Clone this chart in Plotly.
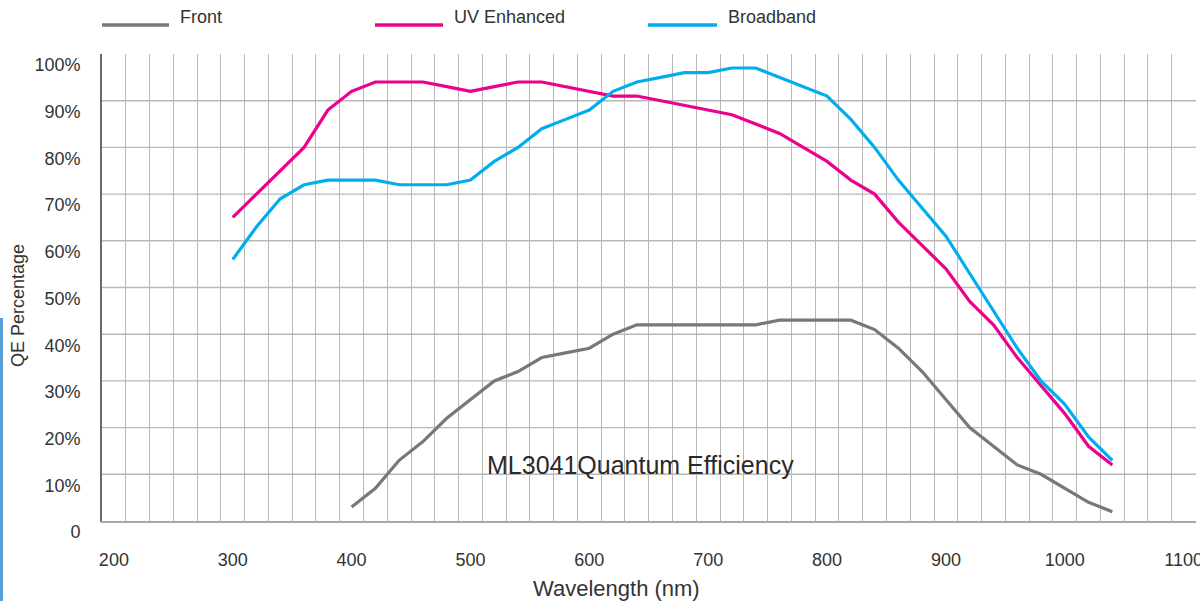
import plotly.graph_objects as go

# Wavelength samples (nm) and quantum efficiency (%) for each sensor variant
wavelength_uv_bb = [300, 320, 340, 360, 380, 400, 420, 440, 460, 480, 500, 520, 540, 560,
                    580, 600, 620, 640, 660, 680, 700, 720, 740, 760, 780, 800, 820, 840,
                    860, 880, 900, 920, 940, 960, 980, 1000, 1020, 1040]
qe_uv_enhanced = [65, 70, 75, 80, 88, 92, 94, 94, 94, 93, 92, 93, 94, 94,
                  93, 92, 91, 91, 90, 89, 88, 87, 85, 83, 80, 77, 73, 70,
                  64, 59, 54, 47, 42, 35, 29, 23, 16, 12]
qe_broadband = [56, 63, 69, 72, 73, 73, 73, 72, 72, 72, 73, 77, 80, 84,
                86, 88, 92, 94, 95, 96, 96, 97, 97, 95, 93, 91, 86, 80,
                73, 67, 61, 53, 45, 37, 30, 25, 18, 13]

wavelength_front = [400, 420, 440, 460, 480, 500, 520, 540, 560, 580, 600, 620, 640, 660,
                    680, 700, 720, 740, 760, 780, 800, 820, 840, 860, 880, 900, 920, 940,
                    960, 980, 1000, 1020, 1040]
qe_front = [3, 7, 13, 17, 22, 26, 30, 32, 35, 36, 37, 40, 42, 42,
            42, 42, 42, 42, 43, 43, 43, 43, 41, 37, 32, 26, 20, 16,
            12, 10, 7, 4, 2]

series_names = ["Front", "UV Enhanced", "Broadband"]
series_colors = ["#787878", "#EC008C", "#00AEEF"]

x_tick_values = [200, 300, 400, 500, 600, 700, 800, 900, 1000, 1100]
y_tick_values = [0, 10, 20, 30, 40, 50, 60, 70, 80, 90, 100]
y_tick_labels = ["0", "10%", "20%", "30%", "40%", "50%", "60%", "70%", "80%", "90%", "100%"]
y_grid_values = [10, 20, 30, 40, 50, 60, 70, 80, 90]

chart_caption = "ML3041Quantum Efficiency"

W, H = 1200, 601
ML, MR, MT, MB = 102, 4, 54, 80
PW, PH = W - ML - MR, H - MT - MB

FONT = "Liberation Sans, Arial, sans-serif"
TEXT = "#333333"
GRID = "#b8b8b8"


def px_to_paper(px, py):
    return (px - ML) / PW, (H - MB - py) / PH


fig = go.Figure()

curves = [
    (wavelength_front, qe_front),
    (wavelength_uv_bb, qe_uv_enhanced),
    (wavelength_uv_bb, qe_broadband),
]
for (xs, ys), name, color in zip(curves, series_names, series_colors):
    fig.add_trace(go.Scatter(
        x=xs, y=ys, name=name, mode="lines",
        line=dict(color=color, width=3.2),
        showlegend=False,
    ))

# horizontal grid lines (no line along the top edge)
for v in y_grid_values:
    fig.add_shape(type="line", xref="paper", yref="y", x0=0, x1=1, y0=v, y1=v,
                  line=dict(color=GRID, width=1.4), layer="below")

# hand-placed legend row across the top
legend_pos = [(102, 169), (375, 443), (648, 717)]
for (lx0, lx1), name, color in zip(legend_pos, series_names, series_colors):
    px0, py0 = px_to_paper(lx0, 25)
    px1, _ = px_to_paper(lx1, 25)
    fig.add_shape(type="line", xref="paper", yref="paper", x0=px0, x1=px1, y0=py0, y1=py0,
                  line=dict(color=color, width=3.5))
    tx, ty = px_to_paper(lx1 + 9, 17)
    fig.add_annotation(xref="paper", yref="paper", x=tx, y=ty, text=name, showarrow=False,
                       xanchor="left", yanchor="middle",
                       font=dict(family=FONT, size=18, color=TEXT))

# axis titles
tx, ty = px_to_paper(18, 306)
fig.add_annotation(xref="paper", yref="paper", x=tx, y=ty, text="QE Percentage", textangle=-90,
                   showarrow=False, xanchor="center", yanchor="middle",
                   font=dict(family=FONT, size=18, color=TEXT))
tx, ty = px_to_paper(616, 588)
fig.add_annotation(xref="paper", yref="paper", x=tx, y=ty, text="Wavelength (nm)",
                   showarrow=False, xanchor="center", yanchor="middle",
                   font=dict(family=FONT, size=22, color=TEXT))

# caption inside the plot
fig.add_annotation(x=643, y=12, text=chart_caption, showarrow=False,
                   xanchor="center", yanchor="middle",
                   font=dict(family=FONT, size=25, color="#2a2a2a"))

# thin blue strip along the left edge
fig.add_shape(type="rect", xref="paper", yref="paper",
              x0=px_to_paper(0, 0)[0], x1=px_to_paper(3, 0)[0],
              y0=px_to_paper(0, 601)[1], y1=px_to_paper(0, 318)[1],
              fillcolor="#5a9fd8", line=dict(width=0))

fig.update_xaxes(
    range=[190, 1110.4],
    tickvals=x_tick_values,
    showgrid=False, zeroline=False, automargin=False,
    showline=True, linecolor="#a8a8a8", linewidth=1.5,
    ticks="", ticklabelstandoff=22, ticklabeloverflow="allow",
    tickfont=dict(family=FONT, size=18, color=TEXT),
    minor=dict(tick0=190, dtick=20, showgrid=True, gridcolor=GRID, gridwidth=1.4),
)
fig.update_yaxes(
    range=[0, 100],
    tickvals=y_tick_values, ticktext=y_tick_labels,
    showgrid=False, zeroline=False, automargin=False,
    showline=True, linecolor="#6a6a6a", linewidth=1.6,
    ticks="", ticklabelstandoff=16, ticklabelshift=11,
    tickfont=dict(family=FONT, size=18, color=TEXT),
)

fig.update_layout(
    width=W, height=H,
    margin=dict(l=ML, r=MR, t=MT, b=MB),
    paper_bgcolor="white", plot_bgcolor="white",
    showlegend=False,
)

fig.write_html("out.html")
